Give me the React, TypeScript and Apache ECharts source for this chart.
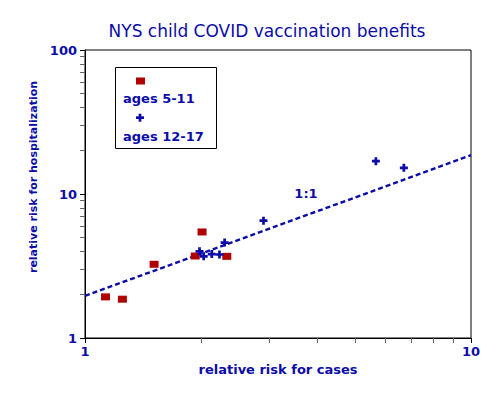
import React, { useEffect, useRef } from "react";
import * as echarts from "echarts";

const titleText = "NYS child COVID vaccination benefits";
const xAxisTitle = "relative risk for cases";
const yAxisTitle = "relative risk for hospitalization";
const seriesNames = ["ages 5-11", "ages 12-17"];

const ages511X = [1.13, 1.25, 1.51, 1.93, 2.01, 2.33];
const ages511Y = [1.93, 1.86, 3.25, 3.71, 5.45, 3.69];
const ages1217X = [1.98, 2.03, 2.13, 2.23, 2.3, 2.9, 5.67, 6.7];
const ages1217Y = [4.0, 3.69, 3.83, 3.8, 4.6, 6.53, 16.9, 15.2];
const refLineX = [1, 10];
const refLineY = [1.96, 18.6];
const refLineLabel = "1:1";

const xMajorTicks = [1, 10];
const xMinorTicks = [2, 3, 4, 5, 6, 7, 8, 9];
const yMajorTicks = [1, 10, 100];
const yMinorTicks = [2, 3, 4, 5, 6, 7, 8, 9, 20, 30, 40, 50, 60, 70, 80, 90];

const BLUE = "#0c0ca8";
const RED = "#b00000";
const CROSS = "path://M3.3,0H6.7V3.3H10V6.7H6.7V10H3.3V6.7H0V3.3H3.3Z";
const FONT = "DejaVu Sans";

export default function App() {
  const ref = useRef<HTMLDivElement>(null);
  useEffect(() => {
    if (!ref.current) return;
    const chart = echarts.init(ref.current, undefined, { renderer: "svg" });
    const labelStyle = {
      color: BLUE,
      fontFamily: FONT,
      fontWeight: "bold" as const,
      fontSize: 13,
    };
    const xBase = {
      type: "log" as const,
      logBase: 10,
      min: 1,
      max: 10,
      position: "bottom" as const,
      gridIndex: 0,
      splitLine: { show: false },
    };
    const yBase = {
      type: "log" as const,
      logBase: 10,
      min: 1,
      max: 100,
      position: "left" as const,
      gridIndex: 0,
      splitLine: { show: false },
    };
    chart.setOption({
      animation: false,
      backgroundColor: "#fff",
      grid: {
        left: 85,
        right: 31,
        top: 50,
        bottom: 61,
        show: true,
        borderColor: "#000",
        borderWidth: 1,
        containLabel: false,
      },
      xAxis: [
        {
          ...xBase,
          axisLine: { show: true, onZero: false, lineStyle: { color: "#000", width: 1 } },
          axisTick: { show: true, length: 5, customValues: xMajorTicks, lineStyle: { color: "#000" } },
          axisLabel: { ...labelStyle, margin: 7, customValues: xMajorTicks },
          name: xAxisTitle,
          nameLocation: "middle",
          nameGap: 23,
          nameTextStyle: { ...labelStyle, fontSize: 13 },
        },
        {
          ...xBase,
          axisLine: { show: false, onZero: false },
          axisTick: { show: true, length: 5, customValues: xMinorTicks, lineStyle: { color: "#666" } },
          axisLabel: { show: false },
        },
      ],
      yAxis: [
        {
          ...yBase,
          axisLine: { show: true, onZero: false, lineStyle: { color: "#000", width: 1 } },
          axisTick: { show: true, length: 5, customValues: yMajorTicks, lineStyle: { color: "#000" } },
          axisLabel: { ...labelStyle, margin: 8, customValues: yMajorTicks },
        },
        {
          ...yBase,
          axisLine: { show: false, onZero: false },
          axisTick: { show: true, length: 5, customValues: yMinorTicks, lineStyle: { color: "#666" } },
          axisLabel: { show: false },
        },
      ],
      series: [
        {
          type: "line",
          xAxisIndex: 0,
          yAxisIndex: 0,
          data: refLineX.map((x, i) => [x, refLineY[i]]),
          symbol: "none",
          lineStyle: { color: BLUE, width: 2.4, type: [5, 3] },
          silent: true,
          z: 2,
        },
        {
          name: seriesNames[0],
          type: "scatter",
          xAxisIndex: 0,
          yAxisIndex: 0,
          symbol: "rect",
          symbolSize: [9, 7],
          itemStyle: { color: RED, opacity: 1 },
          data: ages511X.map((x, i) => [x, ages511Y[i]]),
          z: 3,
        },
        {
          name: seriesNames[1],
          type: "scatter",
          xAxisIndex: 0,
          yAxisIndex: 0,
          symbol: CROSS,
          symbolSize: 8,
          itemStyle: { color: BLUE, opacity: 1 },
          data: ages1217X.map((x, i) => [x, ages1217Y[i]]),
          z: 4,
        },
      ],
      graphic: [
        {
          type: "text",
          x: 267,
          y: 31,
          style: {
            text: titleText,
            fill: BLUE,
            font: `17px "${FONT}"`,
            textAlign: "center",
            textVerticalAlign: "middle",
          },
        },
        {
          type: "text",
          x: 33,
          y: 177,
          rotation: Math.PI / 2,
          style: {
            text: yAxisTitle,
            fill: BLUE,
            font: `bold 11px "${FONT}"`,
            textAlign: "center",
            textVerticalAlign: "middle",
          },
        },
        {
          type: "text",
          x: 306,
          y: 193,
          style: {
            text: refLineLabel,
            fill: BLUE,
            font: `bold 13px "${FONT}"`,
            textAlign: "center",
            textVerticalAlign: "middle",
          },
        },
        {
          type: "group",
          children: [
            {
              type: "rect",
              shape: { x: 115.5, y: 67.5, width: 101, height: 81 },
              style: { fill: "#fff", stroke: "#000", lineWidth: 1 },
            },
            {
              type: "rect",
              shape: { x: 136, y: 77.5, width: 9, height: 7 },
              style: { fill: RED },
            },
            {
              type: "text",
              x: 123,
              y: 98,
              style: {
                text: seriesNames[0],
                fill: BLUE,
                font: `bold 13px "${FONT}"`,
                textAlign: "left",
                textVerticalAlign: "middle",
              },
            },
            {
              type: "rect",
              shape: { x: 136, y: 116.3, width: 8, height: 2.7 },
              style: { fill: BLUE },
            },
            {
              type: "rect",
              shape: { x: 138.65, y: 113.7, width: 2.7, height: 8 },
              style: { fill: BLUE },
            },
            {
              type: "text",
              x: 123,
              y: 136,
              style: {
                text: seriesNames[1],
                fill: BLUE,
                font: `bold 13px "${FONT}"`,
                textAlign: "left",
                textVerticalAlign: "middle",
              },
            },
          ],
          z: 10,
        },
      ],
    });
    return () => chart.dispose();
  }, []);
  return (
    <div
      ref={ref}
      style={{ position: "fixed", left: 0, top: 0, width: 502, height: 399, background: "#fff" }}
    />
  );
}
